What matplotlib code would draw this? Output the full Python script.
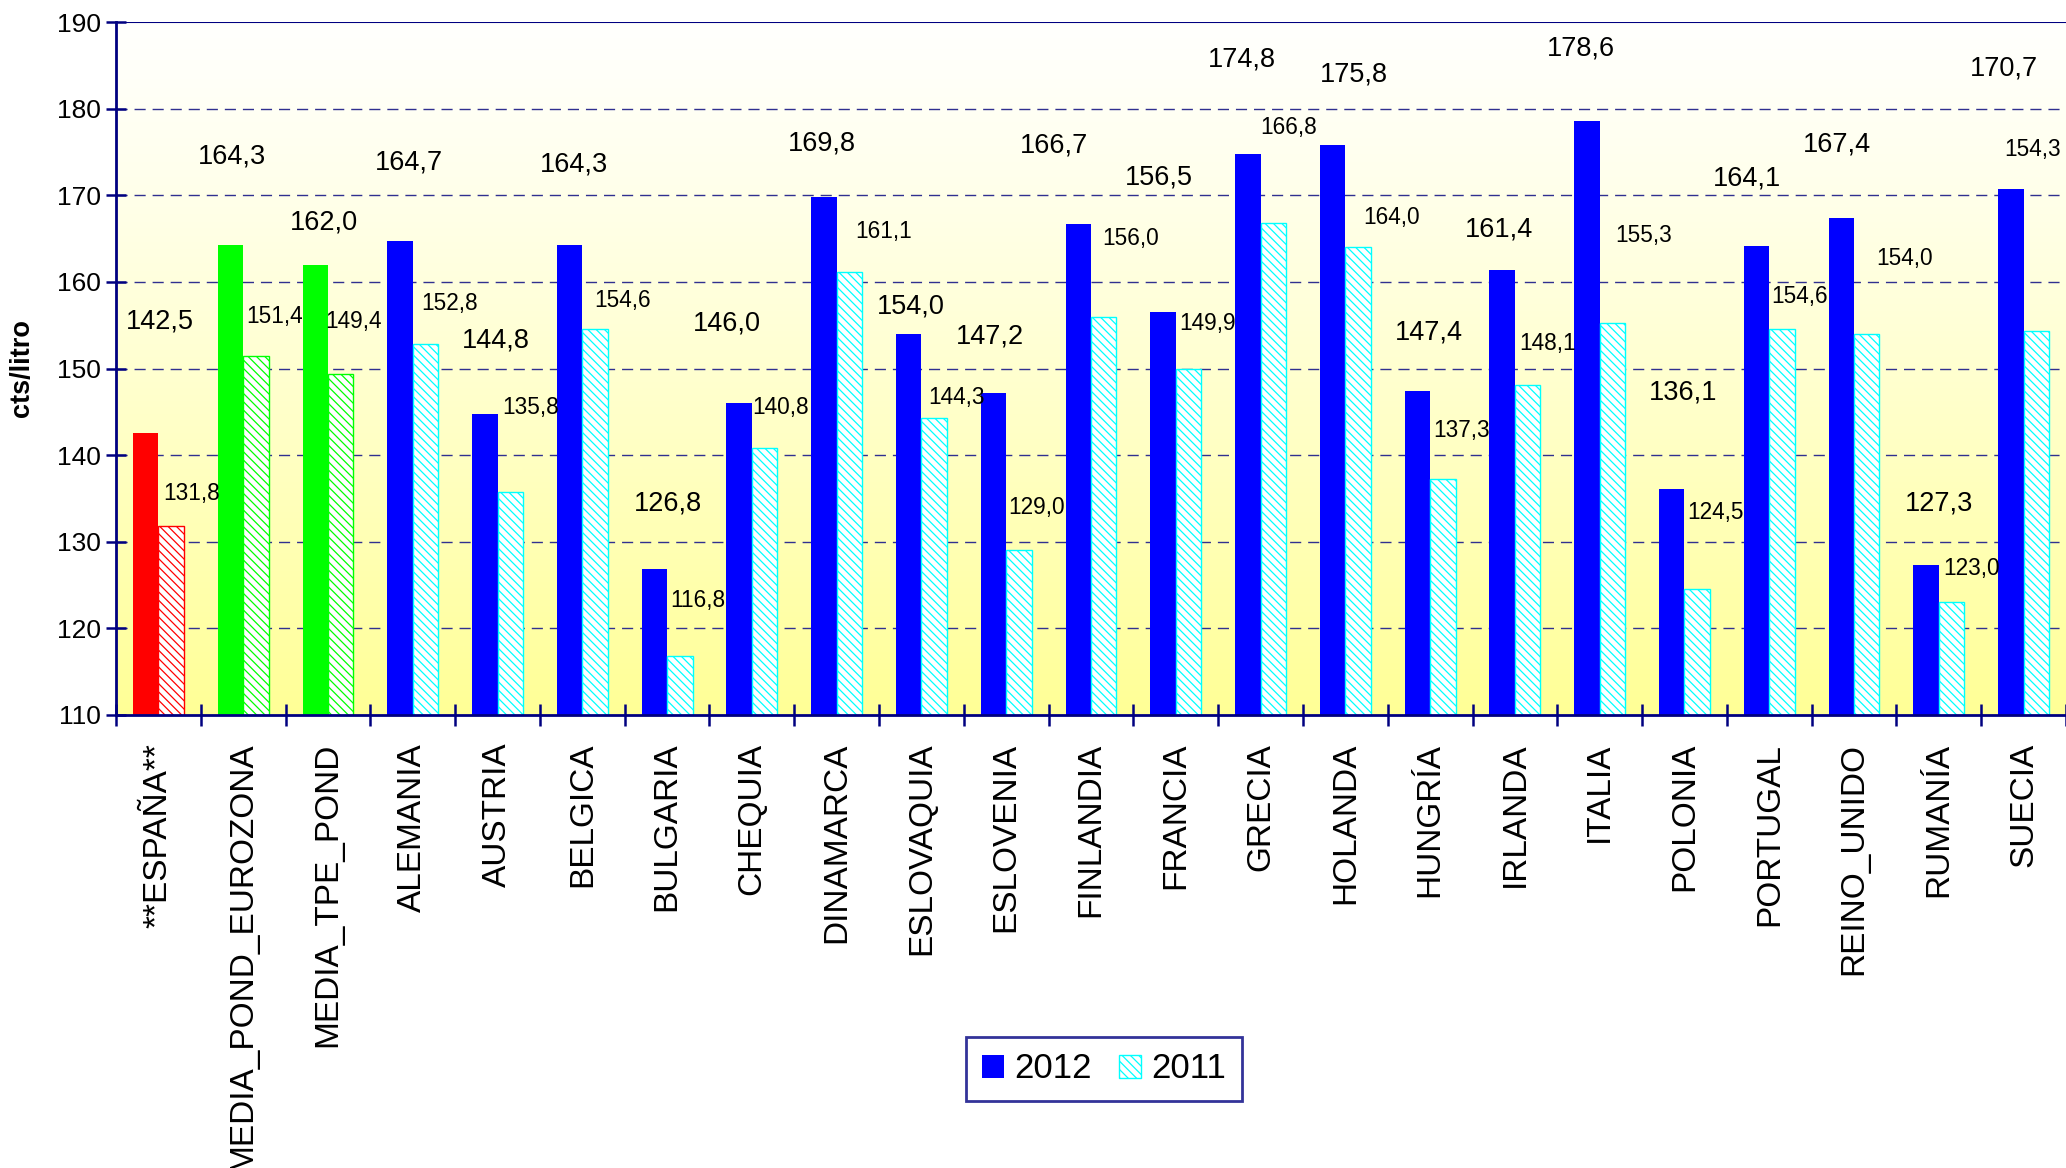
import numpy as np
import matplotlib.pyplot as plt
from matplotlib.patches import Patch

plt.rcParams['font.family'] = ['Liberation Sans', 'DejaVu Sans']
plt.rcParams['hatch.linewidth'] = 0.9

categories = ['**ESPAÑA**', 'MEDIA_POND_EUROZONA', 'MEDIA_TPE_POND', 'ALEMANIA', 'AUSTRIA',
              'BELGICA', 'BULGARIA', 'CHEQUIA', 'DINAMARCA', 'ESLOVAQUIA', 'ESLOVENIA',
              'FINLANDIA', 'FRANCIA', 'GRECIA', 'HOLANDA', 'HUNGRÍA', 'IRLANDA', 'ITALIA',
              'POLONIA', 'PORTUGAL', 'REINO_UNIDO', 'RUMANÍA', 'SUECIA']
values_2012 = [142.5, 164.3, 162.0, 164.7, 144.8, 164.3, 126.8, 146.0, 169.8, 154.0, 147.2,
               166.7, 156.5, 174.8, 175.8, 147.4, 161.4, 178.6, 136.1, 164.1, 167.4, 127.3, 170.7]
values_2011 = [131.8, 151.4, 149.4, 152.8, 135.8, 154.6, 116.8, 140.8, 161.1, 144.3, 129.0,
               156.0, 149.9, 166.8, 164.0, 137.3, 148.1, 155.3, 124.5, 154.6, 154.0, 123.0, 154.3]

# where Excel dropped the value labels (offsets from bar top / category centre)
lbl12_dx = [0.02, -0.13, -0.05, -0.04, -0.02, -0.10, 0.01, -0.29, -0.18, -0.12, -0.19, -0.44,
            -0.20, -0.22, 0.10, -0.02, -0.19, -0.22, -0.02, -0.26, -0.20, 0.00, -0.23]
lbl12_dy = [12.9, 10.2, 4.8, 9.1, 8.4, 9.3, 7.6, 9.2, 6.2, 3.1, 6.5, 9.1, 15.6, 10.9, 8.1,
            6.8, 4.7, 8.3, 11.1, 7.8, 8.5, 7.1, 13.9]
lbl11_dx = [0.39, 0.375, 0.30, 0.44, 0.39, 0.48, 0.36, 0.34, 0.55, 0.41, 0.36, 0.47, 0.37,
            0.33, 0.55, 0.375, 0.38, 0.52, 0.37, 0.355, 0.59, 0.385, 0.11]
lbl11_dy = [3.8, 4.6, 6.0, 4.7, 9.7, 3.2, 6.4, 4.7, 4.7, 2.4, 4.9, 9.0, 5.3, 11.0, 3.4, 5.6,
            4.8, 10.0, 8.9, 3.7, 8.7, 3.9, 21.0]

colors = ['#FF0000', '#00FF00', '#00FF00'] + ['#0000FF'] * 20
colors_11 = ['#FF0000', '#00FF00', '#00FF00'] + ['#00FFFF'] * 20
navy = '#000080'

fig = plt.figure(figsize=(20.66, 11.68), dpi=100)
ax = fig.add_axes([116 / 2066, 1 - 715 / 1168, 1 - 116 / 2066, (715 - 22) / 1168])

n = len(categories)
x = np.arange(n)
ax.set_xlim(-0.5, n - 0.5)
ax.set_ylim(110, 190)

# white -> pale yellow background
grad = np.linspace(0, 1, 256)[:, None] ** 1.2
top = np.array([255, 255, 253]) / 255
bottom = np.array([255, 255, 150]) / 255
img = top[None, None, :] * (1 - grad[:, :, None]) + bottom[None, None, :] * grad[:, :, None]
ax.imshow(img, extent=[-0.5, n - 0.5, 110, 190], aspect='auto', zorder=0)

for yv in range(120, 190, 10):
    ax.axhline(yv, color='#303090', lw=1.0, ls=(0, (8, 5)), zorder=1)
ax.axhline(190, color=navy, lw=1.5, zorder=1)

w = 0.3
ax.bar(x - w / 2, values_2012, w, color=colors, edgecolor='none', zorder=2)
for i in range(n):
    ax.bar(x[i] + w / 2, values_2011[i], w, color='white', edgecolor=colors_11[i],
           hatch='\\\\\\\\', lw=1.0, zorder=2)

for i in range(n):
    ax.text(x[i] + lbl12_dx[i], values_2012[i] + lbl12_dy[i], f'{values_2012[i]:.1f}'.replace('.', ','),
            ha='center', va='center', fontsize=19.5, zorder=3)
    ax.text(x[i] + lbl11_dx[i], values_2011[i] + lbl11_dy[i], f'{values_2011[i]:.1f}'.replace('.', ','),
            ha='center', va='center', fontsize=16.3, zorder=3)

for s in ['top', 'right']:
    ax.spines[s].set_visible(False)
for s in ['left', 'bottom']:
    ax.spines[s].set_color(navy)
    ax.spines[s].set_linewidth(2)

ax.set_yticks(range(110, 191, 10))
ax.tick_params(axis='y', direction='inout', length=14, width=1.8, color=navy,
               labelsize=19, pad=4)
ax.set_xticks(np.arange(-0.5, n, 1.0))
ax.set_xticklabels([])
ax.set_xticks(x, minor=True)
ax.set_xticklabels(categories, minor=True, rotation=90, fontsize=24, va='top', ha='center')
ax.tick_params(axis='x', which='major', direction='inout', length=16, width=1.8, color=navy)
ax.tick_params(axis='x', which='minor', length=0, pad=20)

fig.text(22 / 2066, 1 - 368.5 / 1168, 'cts/litro', rotation=90, ha='center', va='center',
         fontsize=19.5, fontweight='bold')

handles = [Patch(facecolor='#0000FF', edgecolor='none', label='2012'),
           Patch(facecolor='white', edgecolor='#00FFFF', hatch='\\\\\\\\', label='2011')]
leg = fig.legend(handles=handles, loc='center', bbox_to_anchor=(1104 / 2066, 1 - 1069 / 1168),
                 ncol=2, fontsize=25, frameon=True, fancybox=False, handlelength=0.63,
                 handleheight=0.63, handletextpad=0.3, columnspacing=0.8, borderpad=0.45)
leg.get_frame().set_edgecolor(navy)
leg.get_frame().set_linewidth(2)

fig.savefig('out.png', dpi=100)
